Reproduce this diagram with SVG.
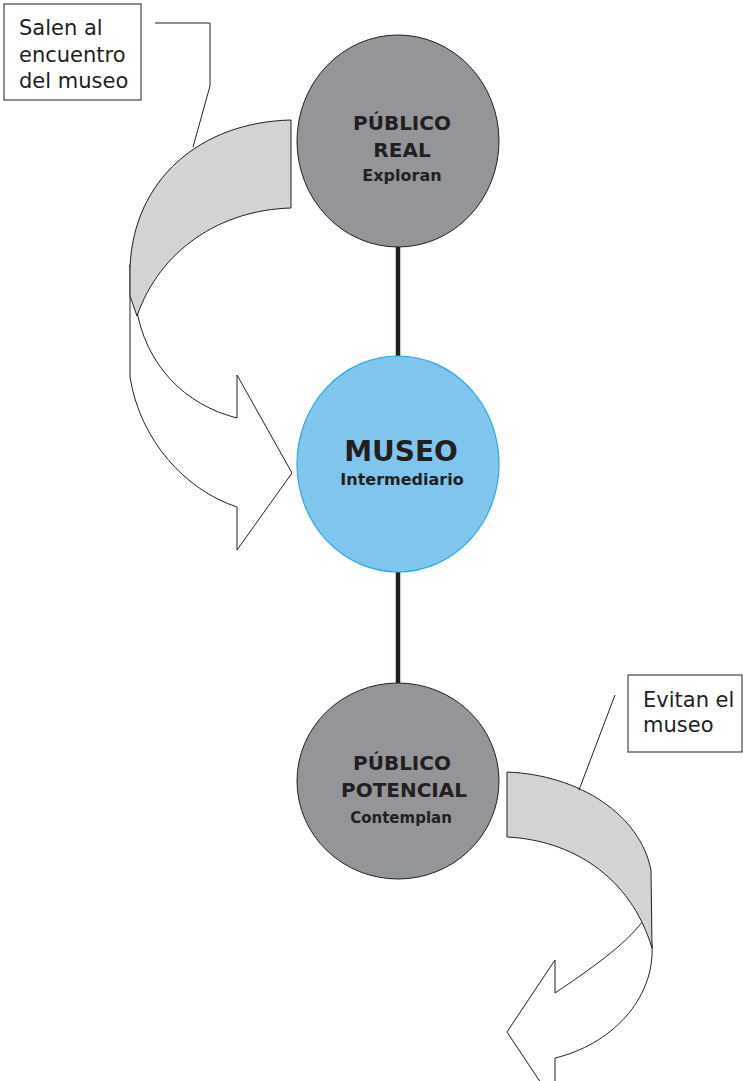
<svg xmlns="http://www.w3.org/2000/svg" width="743" height="1081" viewBox="0 0 743 1081">
<style>
.node-gray{fill:#939598;stroke:#231f20;stroke-width:1}
.node-blue{fill:#80c5ed;stroke:#29abe2;stroke-width:1.2}
.lbl{font-family:"DejaVu Sans",sans-serif;font-weight:bold;fill:#231f20;text-anchor:middle}
.note{font-family:"DejaVu Sans",sans-serif;font-size:21px;fill:#231f20}
.box{fill:#fff;stroke:#231f20;stroke-width:1}
.band{fill:#d1d3d4;stroke:#231f20;stroke-width:1}
.arrow{fill:#fff;stroke:#231f20;stroke-width:1}
.leader{fill:none;stroke:#231f20;stroke-width:1}
.conn{stroke:#231f20;stroke-width:4.5}
</style>
<rect width="743" height="1081" fill="#fff"/>

<g id="connectors">
<line class="conn" x1="398" y1="246" x2="398" y2="358"/>
<line class="conn" x1="398" y1="572" x2="398" y2="683"/>
</g>

<g id="arrow-left">
<path class="arrow" d="M130,265 L130,377 C140,440 185,490 237,507 L237,550 L292,473 L237,375 L237,418 C185,405 145,365 136,306 Z"/>
<path class="band" d="M291,120 L291,208 C220,210 160,250 137,316 L130,296 L130,268 C133,180 200,122 291,120 Z"/>
</g>

<g id="arrow-right">
<path class="arrow" d="M555,993 L555,960 L507,1032 L555,1104 L555,1058 C610,1045 655,1000 652,945 L645,918 C630,940 600,963 555,993 Z"/>
<path class="band" d="M507,772 L507,837 C570,840 630,875 652,948 L651,870 C640,815 580,775 507,772 Z"/>
</g>

<g id="callout-salen">
<rect class="box" x="4" y="4" width="137" height="96"/>
<text class="note" x="19" y="35">Salen al</text>
<text class="note" x="19" y="62">encuentro</text>
<text class="note" x="19" y="88">del museo</text>
<polyline class="leader" points="155,23 210,23 210,86 193,147"/>
</g>

<g id="callout-evitan">
<rect class="box" x="628" y="675" width="114" height="77"/>
<text class="note" x="643" y="707">Evitan el</text>
<text class="note" x="643" y="732">museo</text>
<line class="leader" x1="615" y1="695" x2="579" y2="790"/>
</g>

<g id="node-publico-real">
<ellipse class="node-gray" cx="398" cy="141" rx="101" ry="106"/>
<text class="lbl" x="402" y="130" font-size="20">PÚBLICO</text>
<text class="lbl" x="402" y="157" font-size="20">REAL</text>
<text class="lbl" x="402" y="181" font-size="16">Exploran</text>
</g>

<g id="node-museo">
<ellipse class="node-blue" cx="398" cy="464" rx="101" ry="108"/>
<text class="lbl" x="401" y="461" font-size="28">MUSEO</text>
<text class="lbl" x="402" y="485" font-size="16">Intermediario</text>
</g>

<g id="node-publico-potencial">
<ellipse class="node-gray" cx="398" cy="781" rx="101" ry="98"/>
<text class="lbl" x="402" y="770" font-size="20">PÚBLICO</text>
<text class="lbl" x="404" y="797" font-size="20">POTENCIAL</text>
<text class="lbl" x="401" y="823" font-size="15">Contemplan</text>
</g>
</svg>
